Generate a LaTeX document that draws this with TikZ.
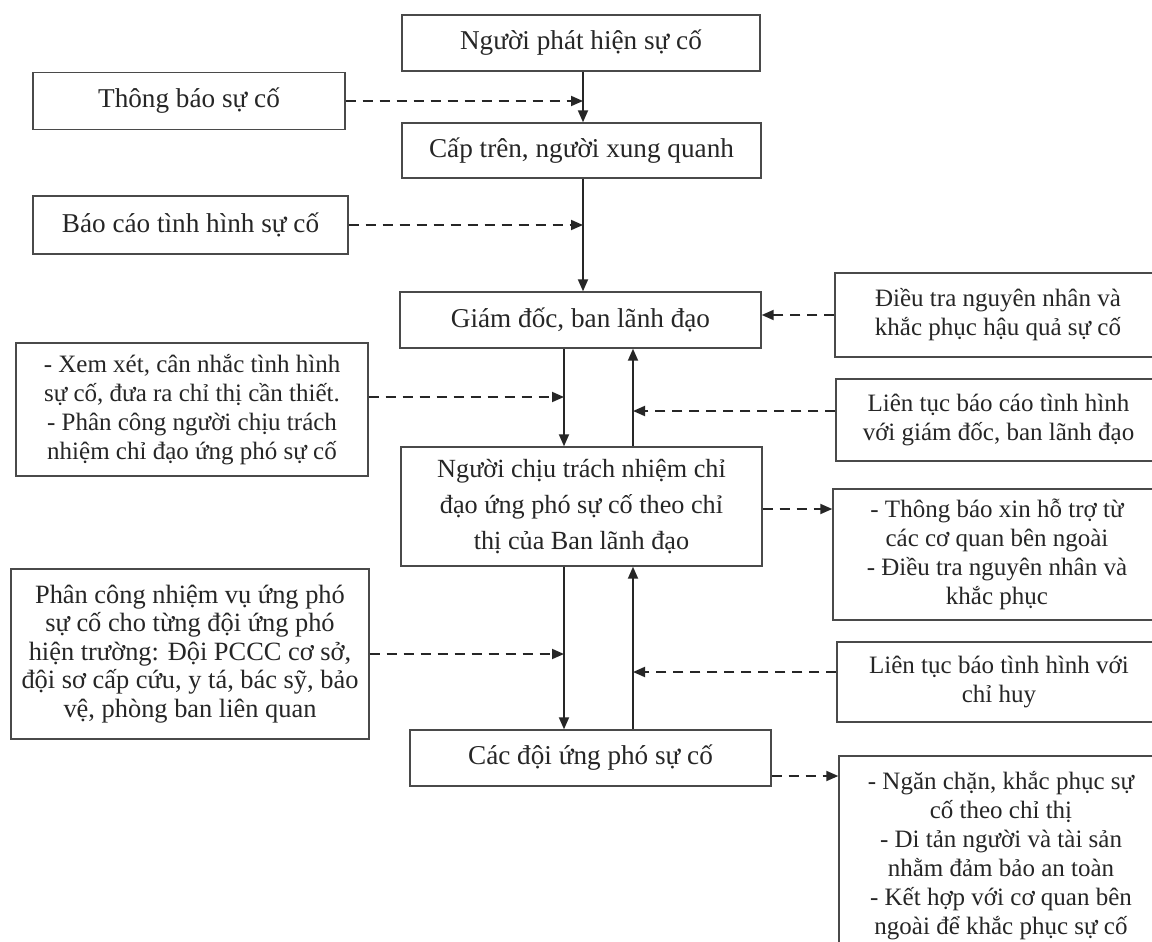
\documentclass[tikz,border=0pt]{standalone}
\usepackage{fontspec}
\setmainfont{Liberation Serif}
\usetikzlibrary{arrows.meta}
\definecolor{ink}{HTML}{262626}
\definecolor{boxline}{HTML}{4A4A4A}
\begin{document}
\begin{tikzpicture}[x=0.5pt,y=-0.5pt,
  box/.style={draw=boxline, line width=0.7pt, inner sep=0pt, align=center,
    text=ink, font=\fontsize{12.5}{14.5}\selectfont},
  single/.style={box, font=\fontsize{13.6}{16}\selectfont},
  sz/.style 2 args={minimum width=#1*0.5pt, minimum height=#2*0.5pt},
  flow/.style={draw=ink, line width=0.9pt, -{Triangle[length=6pt,width=5pt]}},
  link/.style={flow, dash pattern=on 5pt off 3.5pt}]
\clip (0,0) rectangle (1152,942);
\fill[white] (0,0) rectangle (1152,942);

% main column
\node[single, sz={358}{56}] (A) at (581,43) {Người phát hiện sự cố};
\node[single, sz={359}{55}] (B) at (581.5,150.5) {Cấp trên, người xung quanh};
\node[single, sz={361}{56}] (GD) at (580.5,320) {Giám đốc, ban lãnh đạo};
\node[box, sz={361}{119}, font=\fontsize{13.1}{18}\selectfont] (NC) at (581.5,506.5) {Người chịu trách nhiệm chỉ\\ đạo ứng phó sự cố theo chỉ\\ thị của Ban lãnh đạo};
\node[single, sz={361}{56}] (CD) at (590.5,758) {Các đội ứng phó sự cố};

% left column
\node[single, sz={312}{57}] (TB) at (189,101) {Thông báo sự cố};
\node[single, sz={315}{58}] (BC) at (190.5,225) {Báo cáo tình hình sự cố};
\node[box, sz={352}{133}] (XX) at (192,409.5) {- Xem xét, cân nhắc tình hình\\ sự cố, đưa ra chỉ thị cần thiết.\\ - Phân công người chịu trách\\ nhiệm chỉ đạo ứng phó sự cố};
\node[box, sz={358}{170}, font=\fontsize{13.2}{14.3}\selectfont] (PC) at (190,654) {Phân công nhiệm vụ ứng phó\\ sự cố cho từng đội ứng phó\\ hiện trường: Đội PCCC cơ sở,\\ đội sơ cấp cứu, y tá, bác sỹ, bảo\\ vệ, phòng ban liên quan};

% right column
\node[box, sz={326}{84}] (DT) at (998,315) {Điều tra nguyên nhân và\\ khắc phục hậu quả sự cố};
\node[box, sz={325}{82}] (LT1) at (998.5,420) {Liên tục báo cáo tình hình\\ với giám đốc, ban lãnh đạo};
\node[box, sz={328}{131}] (TBX) at (997,554.5) {- Thông báo xin hỗ trợ từ\\ các cơ quan bên ngoài\\ - Điều tra nguyên nhân và\\ khắc phục};
\node[box, sz={324}{80}] (LT2) at (999,682) {Liên tục báo tình hình với\\ chỉ huy};
\node[box, sz={324}{199}] (NCh) at (1001,855.5) {- Ngăn chặn, khắc phục sự\\ cố theo chỉ thị\\ - Di tản người và tài sản\\ nhằm đảm bảo an toàn\\ - Kết hợp với cơ quan bên\\ ngoài để khắc phục sự cố};

% connector lanes
\coordinate (c1) at (583,0);
\coordinate (dn) at (564,0);
\coordinate (up) at (633,0);
\coordinate (xa) at (0,397);
\coordinate (la) at (0,411);
\coordinate (nb) at (0,509);
\coordinate (lb) at (0,672);
\coordinate (cb) at (0,776);

% solid flow
\draw[flow] (A.south -| c1) -- (B.north -| c1);
\draw[flow] (B.south -| c1) -- (GD.north -| c1);
\draw[flow] (GD.south -| dn) -- (NC.north -| dn);
\draw[flow] (NC.north -| up) -- (GD.south -| up);
\draw[flow] (NC.south -| dn) -- (CD.north -| dn);
\draw[flow] (CD.north -| up) -- (NC.south -| up);

% dashed links
\draw[link] (TB.east) -- (TB.east -| c1);
\draw[link] (BC.east) -- (BC.east -| c1);
\draw[link] (DT.west) -- (DT.west -| GD.east);
\draw[link] (XX.east |- xa) -- (dn |- xa);
\draw[link] (LT1.west |- la) -- (up |- la);
\draw[link] (NC.east |- nb) -- (TBX.west |- nb);
\draw[link] (PC.east) -- (PC.east -| dn);
\draw[link] (LT2.west |- lb) -- (up |- lb);
\draw[link] (CD.east |- cb) -- (NCh.west |- cb);
\end{tikzpicture}
\end{document}
